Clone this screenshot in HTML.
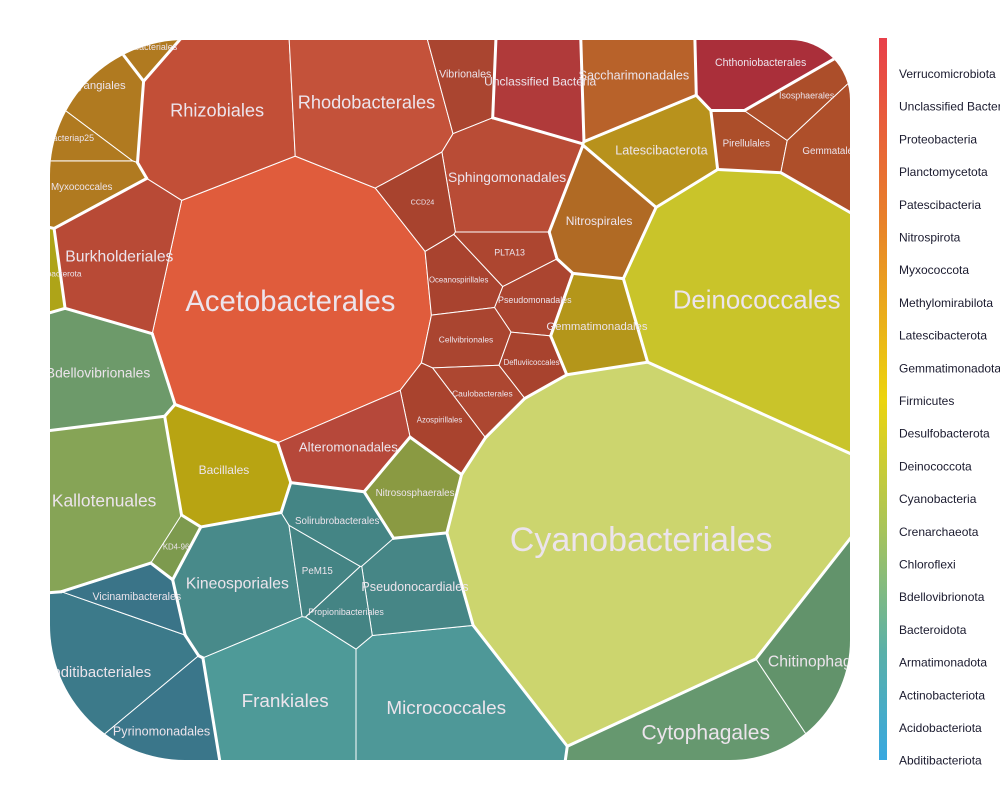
<!DOCTYPE html>
<html><head><meta charset="utf-8">
<style>
html,body{margin:0;padding:0;background:#fff;}
svg{display:block;font-family:"Liberation Sans",sans-serif;}
</style></head>
<body>
<svg id="chart" width="1000" height="800" viewBox="0 0 1000 800">
<defs>
<clipPath id="clip"><path d="M185,40 H790 A60,60 0 0 1 850,100 V640 A120,120 0 0 1 730,760 H185 A135,135 0 0 1 50,625 V175 A135,135 0 0 1 185,40 Z"/></clipPath>
<linearGradient id="lg" x1="0" y1="0" x2="0" y2="1">
<stop offset="0" stop-color="#e8404a"/><stop offset="0.25" stop-color="#e8802a"/>
<stop offset="0.5" stop-color="#ecd40e"/><stop offset="0.68" stop-color="#a8c45a"/>
<stop offset="0.85" stop-color="#5ab0a8"/><stop offset="1" stop-color="#38a8e0"/>
</linearGradient>
</defs>
<g id="cells" clip-path="url(#clip)"></g>
<g id="labels" clip-path="url(#clip)"></g>
<g id="legend">
<rect x="879" y="38" width="8" height="722" fill="url(#lg)"/>
</g>
</svg>
<script>
// ---- data ----
const cellNames = ["Acetobacterales","Rhizobiales","Rhodobacterales","Vibrionales","Sphingomonadales","CCD24","PLTA13","Pseudomonadales","Oceanospirillales","Cellvibrionales","Defluviicoccales","Caulobacterales","Azospirillales","Alteromonadales","Burkholderiales","Unclassified Bacteria","Saccharimonadales","Latescibacterota","Nitrospirales","Gemmatimonadales","Deinococcales","Cyanobacteriales","Nitrososphaerales","Chthoniobacterales","Pirellulales","Isosphaerales","Gemmatales","Polyangiales","Myxococcales","bacteriap25","Rokubacteriales","Desulfobacterota","Bdellovibrionales","Kallotenuales","Bacillales","KD4-96","Kineosporiales","Frankiales","Micrococcales","Pseudonocardiales","PeM15","Propionibacteriales","Solirubrobacterales","Abditibacteriales","Vicinamibacterales","Pyrinomonadales","Cytophagales","Chitinophagales"];
const cellPhyla = ["Proteobacteria","Proteobacteria","Proteobacteria","Proteobacteria","Proteobacteria","Proteobacteria","Proteobacteria","Proteobacteria","Proteobacteria","Proteobacteria","Proteobacteria","Proteobacteria","Proteobacteria","Proteobacteria","Proteobacteria","Unclassified Bacteria","Patescibacteria","Latescibacterota","Nitrospirota","Gemmatimonadota","Deinococcota","Cyanobacteria","Crenarchaeota","Verrucomicrobiota","Planctomycetota","Planctomycetota","Planctomycetota","Myxococcota","Myxococcota","Myxococcota","Methylomirabilota","Desulfobacterota","Bdellovibrionota","Chloroflexi","Firmicutes","Chloroflexi","Actinobacteriota","Actinobacteriota","Actinobacteriota","Actinobacteriota","Actinobacteriota","Actinobacteriota","Actinobacteriota","Acidobacteriota","Acidobacteriota","Acidobacteriota","Bacteroidota","Bacteroidota"];
const cellValues = [60,20,20,5,10,1.5,3,3,2,2.5,2,2.5,2,9,14,7,8,8,7,6,45,100,4,5,4,3,4,6,4,3,3,2.5,10,18,7,2,14,22,22,8,4,3,4,12,5,8,28,14];
const legendLabels = ["Verrucomicrobiota","Unclassified Bacteria","Proteobacteria","Planctomycetota","Patescibacteria","Nitrospirota","Myxococcota","Methylomirabilota","Latescibacterota","Gemmatimonadota","Firmicutes","Desulfobacterota","Deinococcota","Cyanobacteria","Crenarchaeota","Chloroflexi","Bdellovibrionota","Bacteroidota","Armatimonadota","Actinobacteriota","Acidobacteriota","Abditibacteriota"];
// ---- layout (seed positions, not data) ----
const seedX = [290,215,370,462,505,422,505,532,473,480,527,482,445,350,118,535,632,665,608,597,745,630,400,752,752,775,818,108,78,78,160,60,88,105,222,180,240,290,422,412,310,347,340,118,138,168,725,815];
const seedY = [300,108,100,75,182,196,252,305,282,340,357,392,420,440,262,78,75,155,222,328,285,540,482,72,145,112,158,100,188,140,60,270,365,502,482,550,582,702,702,602,572,612,520,662,605,722,745,685];
const cellColors = ["#e05c3c","#c24f37","#c4523a","#aa4530","#b94c36","#a8432e","#ad4630","#ab4530","#a9432f","#aa4530","#a8432e","#ad4731","#a9432e","#b6483a","#b84a36","#b03a3a","#b8622a","#b8921c","#b06a24","#b4961a","#c9c42a","#ccd56e","#8a9a42","#aa2f3a","#ac4e2a","#ac4e2a","#ae4f2a","#b07a20","#b07a20","#b07a20","#b07a20","#aea418","#6d9a6a","#86a456","#b8a412","#7d9a4e","#488a8a","#4e9a98","#4e9898","#468686","#448484","#448484","#448585","#3c7a8a","#3a7488","#3a768a","#66986f","#62936b"];
const NS="http://www.w3.org/2000/svg";
const K=300;
const W=cellValues.map(v=>v*K);
function clip(poly,a,b,c,tag){
  const out=[];const n=poly.length;
  for(let i=0;i<n;i++){const P=poly[i],Q=poly[(i+1)%n];
    const fp=a*P.x+b*P.y-c, fq=a*Q.x+b*Q.y-c;
    const inP=fp<=0,inQ=fq<=0;
    if(inP){out.push({x:P.x,y:P.y,t:P.t});}
    if(inP!==inQ){const s=fp/(fp-fq);const I={x:P.x+s*(Q.x-P.x),y:P.y+s*(Q.y-P.y)};
      I.t=inP?tag:P.t;out.push(I);}
  }
  return out;
}
const cellsG=document.getElementById('cells');
const labelsG=document.getElementById('labels');
const polys=[];
for(let i=0;i<cellNames.length;i++){
  let poly=[{x:40,y:30,t:-1},{x:860,y:30,t:-1},{x:860,y:770,t:-1},{x:40,y:770,t:-1}];
  const xi=seedX[i],yi=seedY[i];
  for(let j=0;j<cellNames.length&&poly.length;j++){ if(j===i)continue;
    const xj=seedX[j],yj=seedY[j];
    const a=2*(xj-xi),b=2*(yj-yi);
    const c=(xj*xj+yj*yj-W[j])-(xi*xi+yi*yi-W[i]);
    poly=clip(poly,a,b,c,j);
  }
  polys.push(poly);
}
polys.forEach((poly,i)=>{
  if(poly.length<3)return;
  const p=document.createElementNS(NS,'polygon');
  p.setAttribute('points',poly.map(v=>v.x.toFixed(1)+','+v.y.toFixed(1)).join(' '));
  p.setAttribute('fill',cellColors[i]);p.setAttribute('stroke','#fff');p.setAttribute('stroke-width','1');
  
  
  cellsG.appendChild(p);
});
polys.forEach((poly,i)=>{
  for(let k=0;k<poly.length;k++){const P=poly[k],Q=poly[(k+1)%poly.length];
    if(P.t>=0 && P.t>i && cellPhyla[P.t]!==cellPhyla[i]){
      const l=document.createElementNS(NS,'line');
      l.setAttribute('x1',P.x);l.setAttribute('y1',P.y);l.setAttribute('x2',Q.x);l.setAttribute('y2',Q.y);
      l.setAttribute('stroke','#fff');l.setAttribute('stroke-width','3');l.setAttribute('stroke-linecap','round');
      
      
      cellsG.appendChild(l);
    }}
});
polys.forEach((poly,i)=>{
  if(poly.length<3)return;
  let A=0,cx=0,cy=0;
  for(let k=0;k<poly.length;k++){const P=poly[k],Q=poly[(k+1)%poly.length];const cr=P.x*Q.y-Q.x*P.y;A+=cr;cx+=(P.x+Q.x)*cr;cy+=(P.y+Q.y)*cr;}
  A/=2;cx/=(6*A);cy/=(6*A);
  const fs=Math.min(34,3.4*Math.sqrt(cellValues[i])+3);
  const t=document.createElementNS(NS,'text');
  t.setAttribute('x',cx);t.setAttribute('y',cy+fs*0.35);t.setAttribute('text-anchor','middle');
  t.setAttribute('font-size',fs.toFixed(1));t.setAttribute('fill','#ece4ec');
  t.textContent=cellNames[i];
  
  
  labelsG.appendChild(t);
});
const legG=document.getElementById('legend');
legendLabels.forEach((lab,i)=>{
  const t=document.createElementNS(NS,'text');
  t.setAttribute('x',899);t.setAttribute('y',78+i*32.7);t.setAttribute('font-size','12');t.setAttribute('fill','#1a1a2e');
  t.textContent=lab;
  
  
  legG.appendChild(t);
});
</script>
</body></html>
